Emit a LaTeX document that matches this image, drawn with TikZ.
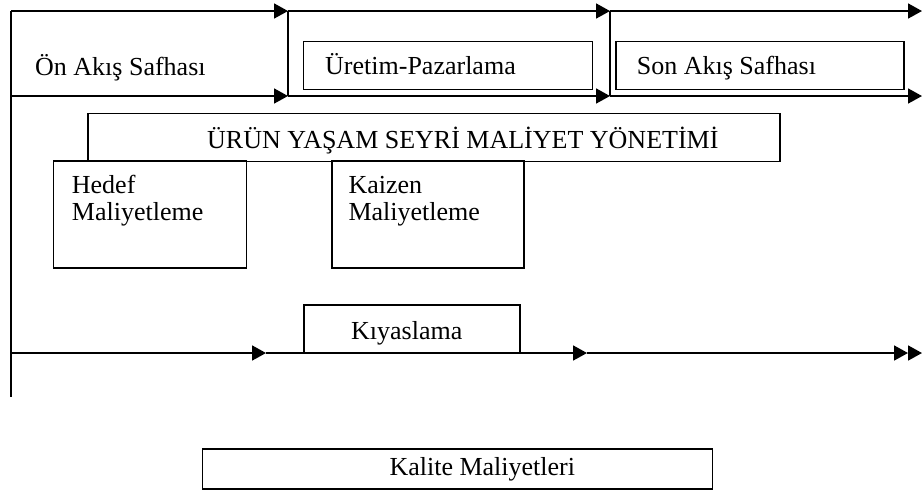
\documentclass[tikz,border=0pt]{standalone}
\usepackage{fontspec}
\setmainfont{Liberation Serif}
\usetikzlibrary{arrows.meta}
\begin{document}
\begin{tikzpicture}[x=1pt,y=-1pt,
  line/.style={line width=1.8pt},
  flow/.style={line, -{Triangle[length=14pt,width=15pt]}},
  box/.style={draw, line width=1.5pt, inner sep=0pt, anchor=north west},
  txt/.style={anchor=base west, inner sep=0pt, font=\fontsize{26}{28}\selectfont}]
\useasboundingbox (0,0) rectangle (922,499);

% phase rails
\coordinate (t0) at (11,11);  \coordinate (t1) at (288,11);
\coordinate (t2) at (610,11); \coordinate (t3) at (922,11);
\coordinate (b0) at (11,96);  \coordinate (b1) at (288,96);
\coordinate (b2) at (610,96); \coordinate (b3) at (922,96);
\coordinate (left end) at (11,397);

\draw[flow] (t0) -- (t1);
\draw[flow] (t1) -- (t2);
\draw[flow] (t2) -- (t3);
\draw[flow] (b0) -- (b1);
\draw[flow] (b1) -- (b2);
\draw[flow] (b2) -- (b3);
\draw[line] (t1) -- (b1);
\draw[line] (t2) -- (b2);
\draw[line] (t0) -- (left end);

% boxes
\node[box, minimum width=289pt, minimum height=48pt] (uretim) at (302.5,40.5) {};
\node[box, minimum width=288pt, minimum height=48pt] (son) at (615,40.5) {};
\node[box, minimum width=692pt, minimum height=48pt] (urun) at (87,112.5) {};
\node[box, minimum width=193pt, minimum height=107pt] (hedef) at (52.7,160.3) {};
\node[box, minimum width=192pt, minimum height=107pt] (kaizen) at (331,160.3) {};
\node[box, minimum width=216pt, minimum height=48.5pt] (kiyas) at (303.3,304.3) {};
\node[box, minimum width=510pt, minimum height=40pt] (kalite) at (201.7,448.3) {};

% benchmarking rail
\coordinate (m0) at (11,353);  \coordinate (m1) at (266,353);
\coordinate (m2) at (587,353); \coordinate (m3) at (908,353);
\coordinate (m4) at (922,353);
\draw[flow] (m0) -- (m1);
\draw[flow] (m1) -- (m2);
\draw[flow] (m2) -- (m3);
\draw[flow] (m3) -- (m4);

% labels
\node[txt] (l1) at (35,75) {Ön Akış Safhası};
\node[txt] (l2) at (325,74) {Üretim-Pazarlama};
\node[txt] (l3) at (636.7,74) {Son Akış Safhası};
\node[txt] (l4) at (207,148) {ÜRÜN YAŞAM SEYRİ MALİYET YÖNETİMİ};
\node[txt] (l5) at (71.7,193) {Hedef};
\node[txt] (l6) at (71.7,220.7) {Maliyetleme};
\node[txt] (l7) at (348.3,193) {Kaizen};
\node[txt] (l8) at (348.3,220.7) {Maliyetleme};
\node[txt] (l9) at (351,339) {Kıyaslama};
\node[txt] (l10) at (389.3,475) {Kalite Maliyetleri};
\end{tikzpicture}
\end{document}
